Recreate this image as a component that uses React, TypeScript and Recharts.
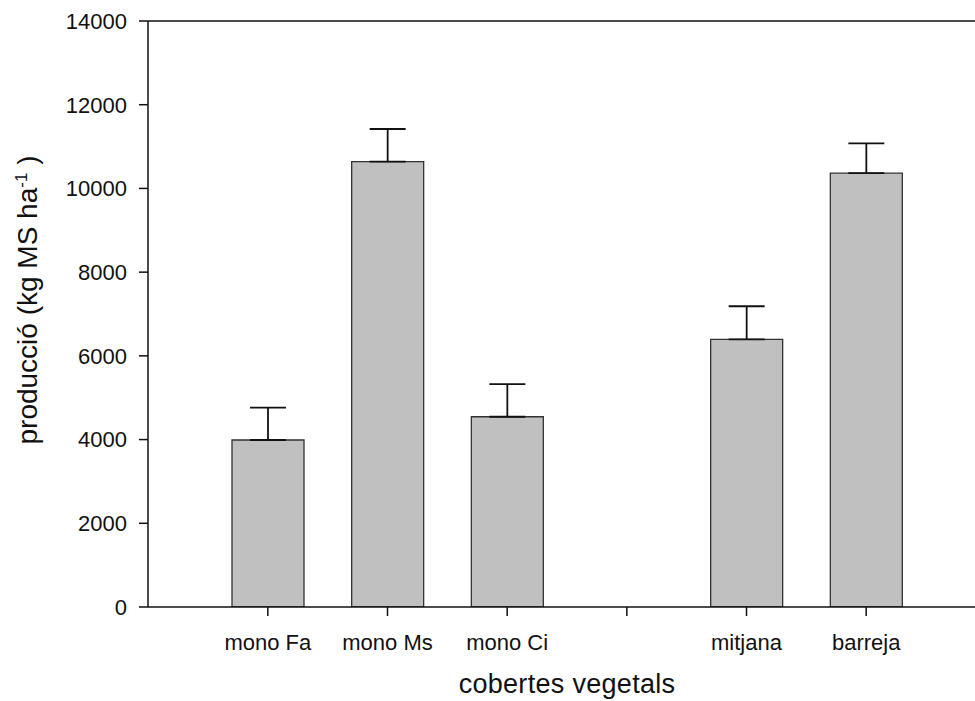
import { BarChart, Bar, XAxis, YAxis, ErrorBar, ReferenceLine, Label } from "recharts";

const categories = ["mono Fa", "mono Ms", "mono Ci", "", "mitjana", "barreja"];
const production = [3990, 10640, 4545, null, 6395, 10365];
const stdErr = [775, 780, 780, null, 790, 710];
const yTicks = [0, 2000, 4000, 6000, 8000, 10000, 12000, 14000];

const FONT = "'Liberation Sans', Arial, sans-serif";
const INK = "#111";

const data = categories.map((name, i) => ({
  name,
  value: production[i],
  err: stdErr[i] == null ? null : [0, stdErr[i]],
}));

export default function App() {
  return (
    <div style={{ width: 975, height: 701, overflow: "hidden", position: "relative", background: "#fff" }}>
      <style>{`body{margin:0}`}</style>
      <BarChart
        width={986}
        height={701}
        data={data}
        margin={{ top: 21, right: 0, bottom: 34, left: 0 }}
        barSize={72}
      >
        <ReferenceLine y={14000} stroke={INK} strokeWidth={1.5} ifOverflow="extendDomain" />
        <XAxis
          dataKey="name"
          height={60}
          padding={{ left: 60, right: 60 }}
          tickSize={9}
          tickMargin={18}
          stroke={INK}
          strokeWidth={1.5}
          tick={{ fill: INK, fontSize: 22, fontFamily: FONT }}
          interval={0}
        >
          <Label
            content={() => (
              <text x={567} y={693} textAnchor="middle" fill={INK} fontSize={27} fontFamily={FONT} letterSpacing={0.3}>
                cobertes vegetals
              </text>
            )}
          />
        </XAxis>
        <YAxis
          width={148}
          domain={[0, 14000]}
          ticks={yTicks}
          tickSize={9}
          tickMargin={12}
          stroke={INK}
          strokeWidth={1.5}
          tick={{ fill: INK, fontSize: 22, fontFamily: FONT }}
          allowDataOverflow
        >
          <Label
            content={() => (
              <text
                x={0}
                y={0}
                transform="translate(37,300) rotate(-90)"
                textAnchor="middle"
                fill={INK}
                fontSize={28}
                fontFamily={FONT}
              >
                producció (kg MS ha
                <tspan dy={-10} fontSize={17}>-1</tspan>
                <tspan dy={10}> )</tspan>
              </text>
            )}
          />
        </YAxis>
        <Bar dataKey="value" fill="#c0c0c0" stroke="#333" strokeWidth={1.3} isAnimationActive={false}>
          <ErrorBar dataKey="err" direction="y" width={18} stroke={INK} strokeWidth={1.8} isAnimationActive={false} />
        </Bar>
      </BarChart>
    </div>
  );
}
